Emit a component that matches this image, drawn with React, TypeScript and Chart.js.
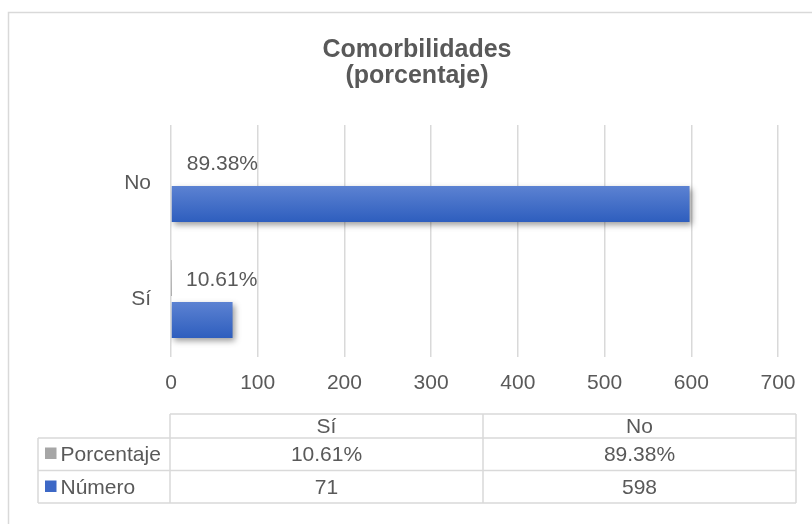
import React, { useEffect, useRef } from 'react';
import { Chart, registerables } from 'chart.js';

Chart.register(...registerables);

// ---- data ----
const categories = ['Sí', 'No'];
const porcentaje = [0.1061, 0.8938];
const numero = [71, 598];
const seriesNames = ['Porcentaje', 'Número'];
const titleLines = ['Comorbilidades', '(porcentaje)'];
const axisMin = 0;
const axisMax = 700;
const axisStep = 100;

// ---- style ----
const FONT = '"Liberation Sans", Arial, Helvetica, sans-serif';
const TEXT = '#595959';
const LINE = '#D9D9D9';
const W = 812;
const H = 524;
const PLOT_LEFT = 171;
const PLOT_RIGHT = 778;
const PLOT_BOTTOM = 357;
const PAD_LEFT = 56;

const gradients: Record<number, [string, string]> = {
  0: ['#B4B4B4', '#8E8E8E'],
  1: ['#5C82D2', '#2E5EBE'],
};
const keyColors = ['#A6A6A6', '#3D68C6'];

const fmtPct = (v: number) => (v * 100).toFixed(2) + '%';
const fmtNum = (v: number) => String(v);

// bar fill gradients + soft drop shadow on the count bars
const barStyle = {
  id: 'barStyle',
  beforeDatasetsDraw(chart: any) {
    const ctx = chart.ctx as CanvasRenderingContext2D;
    chart.data.datasets.forEach((_ds: any, di: number) => {
      const meta = chart.getDatasetMeta(di);
      const stops = gradients[di];
      meta.data.forEach((el: any) => {
        const { y, height } = el.getProps(['y', 'height'], true);
        const g = ctx.createLinearGradient(0, y - height / 2, 0, y + height / 2);
        g.addColorStop(0, stops[0]);
        g.addColorStop(1, stops[1]);
        el.options = { ...el.options, backgroundColor: g };
      });
    });
  },
  beforeDatasetDraw(chart: any, args: any) {
    const ctx = chart.ctx as CanvasRenderingContext2D;
    ctx.save();
    if (args.index === 1) {
      ctx.shadowColor = 'rgba(0,0,0,0.38)';
      ctx.shadowBlur = 6;
      ctx.shadowOffsetX = 2;
      ctx.shadowOffsetY = 3;
    }
  },
  afterDatasetDraw(chart: any) {
    chart.ctx.restore();
  },
};

// percentage labels at the end of the "Porcentaje" bars
const pctLabels = {
  id: 'pctLabels',
  afterDatasetsDraw(chart: any) {
    const ctx = chart.ctx as CanvasRenderingContext2D;
    const meta = chart.getDatasetMeta(0);
    ctx.save();
    ctx.font = `21px ${FONT}`;
    ctx.fillStyle = TEXT;
    ctx.textAlign = 'left';
    ctx.textBaseline = 'middle';
    meta.data.forEach((el: any, i: number) => {
      const { x, y } = el.getProps(['x', 'y'], true);
      ctx.fillText(fmtPct(porcentaje[i]), x + 15, y + 2);
    });
    ctx.restore();
  },
};

// outer frame and data table under the plot
const frameAndTable = {
  id: 'frameAndTable',
  afterDraw(chart: any) {
    const ctx = chart.ctx as CanvasRenderingContext2D;
    ctx.save();
    ctx.strokeStyle = LINE;
    ctx.lineWidth = 1.5;
    ctx.strokeRect(8.5, 12.5, W, H);

    const xL = 38, xA = 170, xM = 483, xR = 796;
    const yH = 414, y1 = 438, y2 = 470.5, y3 = 503;
    ctx.beginPath();
    ctx.moveTo(xA, yH); ctx.lineTo(xR, yH);
    [y1, y2, y3].forEach((y) => { ctx.moveTo(xL, y); ctx.lineTo(xR, y); });
    ctx.moveTo(xL, y1); ctx.lineTo(xL, y3);
    [xA, xM, xR].forEach((x) => { ctx.moveTo(x, yH); ctx.lineTo(x, y3); });
    ctx.stroke();

    ctx.font = `21px ${FONT}`;
    ctx.fillStyle = TEXT;
    ctx.textBaseline = 'middle';
    ctx.textAlign = 'center';
    const cols = [(xA + xM) / 2, (xM + xR) / 2];
    categories.forEach((c, i) => ctx.fillText(c, cols[i], 427));
    const rows = [
      { y: 455, vals: porcentaje.map(fmtPct) },
      { y: 488, vals: numero.map(fmtNum) },
    ];
    rows.forEach((r, ri) => {
      ctx.textAlign = 'center';
      ctx.fillStyle = TEXT;
      r.vals.forEach((v, i) => ctx.fillText(v, cols[i], r.y));
      ctx.fillStyle = keyColors[ri];
      ctx.fillRect(45, r.y - 7.5, 11.5, 11.5);
      ctx.fillStyle = TEXT;
      ctx.textAlign = 'left';
      ctx.fillText(seriesNames[ri], 60.5, r.y);
    });
    ctx.restore();
  },
};

export default function App() {
  const ref = useRef<HTMLCanvasElement | null>(null);

  useEffect(() => {
    if (!ref.current) return;
    const chart = new Chart(ref.current, {
      type: 'bar',
      data: {
        labels: categories,
        datasets: [
          { label: seriesNames[0], data: porcentaje, backgroundColor: keyColors[0], borderWidth: 0 },
          { label: seriesNames[1], data: numero, backgroundColor: keyColors[1], borderWidth: 0 },
        ],
      },
      options: {
        indexAxis: 'y',
        animation: false,
        responsive: false,
        devicePixelRatio: 1,
        categoryPercentage: 0.724,
        barPercentage: 0.857,
        layout: { padding: { top: 0, left: PAD_LEFT, right: W - PLOT_RIGHT, bottom: 0 } },
        plugins: {
          legend: { display: false },
          tooltip: { enabled: false },
          title: {
            display: true,
            text: titleLines,
            color: TEXT,
            font: { family: FONT, size: 25, weight: 'bold', lineHeight: 1.03 },
            padding: { top: 37, bottom: 36.4 },
          },
        },
        scales: {
          x: {
            min: axisMin,
            max: axisMax,
            ticks: {
              stepSize: axisStep,
              color: TEXT,
              font: { family: FONT, size: 21 },
              padding: 14,
              maxRotation: 0,
            },
            grid: { color: LINE, lineWidth: 1.5, drawTicks: false },
            border: { display: false },
            afterFit: (s: any) => { s.height = H - PLOT_BOTTOM; },
          },
          y: {
            reverse: true,
            ticks: {
              color: TEXT,
              font: { family: FONT, size: 21 },
              padding: 20,
            },
            grid: { display: false, drawTicks: false },
            border: { display: false },
            afterFit: (s: any) => { s.width = PLOT_LEFT - PAD_LEFT; },
          },
        },
      },
      plugins: [barStyle, pctLabels, frameAndTable],
    });
    return () => chart.destroy();
  }, []);

  return (
    <div style={{ position: 'fixed', left: 0, top: 0, width: W, height: H, background: '#fff' }}>
      <canvas ref={ref} width={W} height={H} style={{ display: 'block', width: W, height: H }} />
    </div>
  );
}
